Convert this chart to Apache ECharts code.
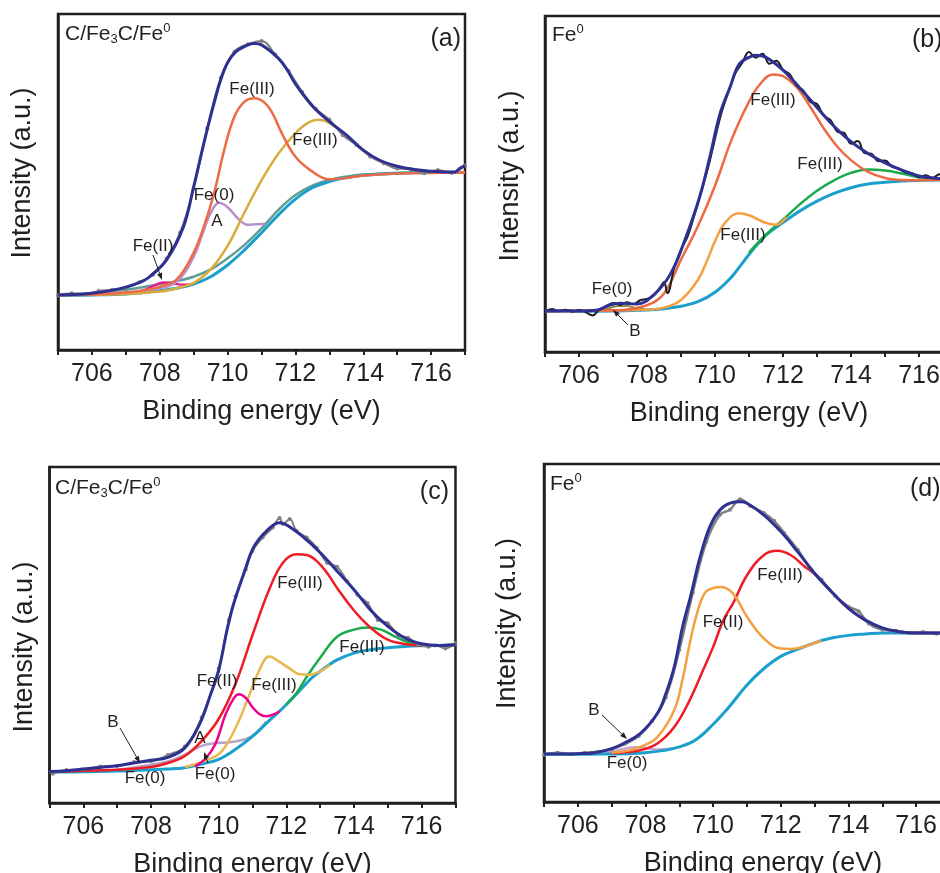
<!DOCTYPE html>
<html>
<head>
<meta charset="utf-8">
<script src="https://cdn.jsdelivr.net/npm/echarts@6/dist/echarts.min.js"></script>
<style>
  html, body { margin: 0; padding: 0; background: #fff; }
  #chart { width: 940px; height: 873px; }
</style>
</head>
<body>
<div id="chart"></div>
<script>
// 横轴刻度标签
const tickLabels = [706, 708, 710, 712, 714, 716];

// ---- (a) C/Fe3C/Fe0 ----
const aEnvelope = [[705,16.4],[705.5,16.5],[706,16.9],[706.5,17.6],[707,18.7],[707.5,20.5],[707.7,21.8],[708.2,26.8],[708.7,36.7],[709,48.6],[709.3,61.5],[709.6,73.4],[709.9,83.3],[710.2,88.3],[710.6,90.8],[710.8,91.2],[711,90.8],[711.5,86.8],[711.75,83.5],[712,79.2],[712.5,72.6],[713,68.0],[713.5,64.0],[714,59.5],[714.5,56.4],[715,54.7],[715.5,53.7],[716,53.2],[716.5,53.0],[716.7,53.0],[716.85,54.1],[717,54.9]];
const aRaw = [[705,16.2],[705.4,16.9],[705.8,16.6],[706.2,17.6],[706.6,17.9],[707,18.5],[707.4,20.2],[707.8,22.4],[708.2,27.2],[708.6,35.0],[709,48.0],[709.4,66.0],[709.8,81.0],[710.2,88.8],[710.6,91.0],[711,92.0],[711.4,88.0],[711.8,83.0],[712.2,76.8],[712.6,71.8],[713,68.6],[713.4,63.9],[713.8,61.0],[714.2,57.6],[714.6,55.6],[715,54.0],[715.4,53.9],[715.8,52.6],[716.2,53.6],[716.6,52.7],[717,54.9]];
const aFe3Low = [[705,16.4],[706,16.5],[707,17.1],[707.5,17.7],[708,18.8],[708.5,21.0],[709,29.0],[709.3,36.7],[709.6,46.6],[709.9,59.5],[710.2,69.4],[710.5,73.9],[710.8,74.9],[711.2,72.4],[711.6,64.5],[712,57.5],[712.5,53.1],[713,50.8],[713.5,51.2],[714,51.9],[715,52.5],[716,52.7],[717,52.8]];
const aFe3High = [[705,16.4],[707,16.7],[708,17.4],[708.5,18.4],[709,20.0],[709.5,24.0],[710,31.0],[710.5,41.0],[711,50.5],[711.5,58.5],[712,64.5],[712.4,67.8],[712.7,68.5],[713,67.6],[713.5,63.8],[714,59.3],[714.5,56.2],[715,54.6],[715.5,53.6],[716,53.1],[717,52.9]];
const aFe0 = [[705,16.4],[707,17.1],[708,18.4],[708.5,20.3],[709,27.8],[709.3,35.7],[709.5,40.7],[709.75,43.8],[710,42.5],[710.3,39.2],[710.6,37.3],[710.8,37.4],[711.1,37.6]];
const aFe2 = [[707,16.7],[707.5,17.7],[707.8,19.0],[708.1,20.1],[708.4,19.8],[708.7,19.4],[708.9,19.5]];
const aTeal = [[705,16.5],[706,16.9],[707,17.9],[707.5,18.7],[708,19.6],[708.5,20.5],[709,21.8],[709.5,24.0],[710,27.3],[710.5,31.3],[711,36.2],[711.5,41.7],[712,46.1],[712.5,48.9],[713,50.6],[713.5,51.6],[714,52.2],[715,52.7],[716,52.9],[717,52.9]];
const aBase = [[705,16.2],[706,16.4],[707,16.7],[707.5,17.1],[708,17.7],[708.5,18.4],[709,19.6],[709.5,21.8],[710,25.3],[710.5,29.8],[711,34.9],[711.5,40.2],[712,44.9],[712.5,48.3],[713,50.1],[713.5,51.3],[714,52.0],[715,52.6],[716,52.8],[717,52.8]];

// ---- (b) Fe0 ----
const bEnvelope = [[705,12.2],[705.5,12.3],[706,12.2],[706.5,12.4],[706.9,14.0],[707.2,14.5],[707.7,14.3],[708.2,17.0],[708.7,23.4],[709.15,34.3],[709.55,46.2],[709.85,58.1],[710.15,71.0],[710.45,79.0],[710.7,85.5],[711,87.7],[711.2,88.3],[711.5,87.7],[712,83.9],[712.5,78.5],[713,72.8],[713.5,67.2],[714,62.6],[714.5,59.1],[715,56.3],[715.5,54.1],[716,52.4],[716.5,51.7],[717,51.5]];
const bRaw = [[705,12.0],[705.2,12.8],[705.4,12.1],[705.6,12.6],[705.8,12.0],[706,12.5],[706.2,11.8],[706.4,10.9],[706.6,12.6],[706.8,13.5],[707,14.6],[707.2,14.0],[707.4,14.8],[707.6,14.2],[707.8,15.4],[708,15.8],[708.2,16.8],[708.4,19.5],[708.5,20.8],[708.6,17.5],[708.8,25.0],[709,30.5],[709.2,34.5],[709.4,41.0],[709.6,48.0],[709.8,55.0],[710,63.5],[710.2,71.5],[710.4,77.5],[710.6,83.0],[710.8,86.0],[711,89.3],[711.2,87.6],[711.4,88.8],[711.6,85.8],[711.8,86.7],[712,84.0],[712.2,82.6],[712.4,79.2],[712.6,77.8],[712.8,74.5],[713,73.8],[713.2,70.3],[713.4,69.0],[713.6,65.6],[713.8,65.2],[714,62.0],[714.2,62.8],[714.4,59.2],[714.6,59.0],[714.8,56.8],[715,57.0],[715.2,55.2],[715.4,54.6],[715.6,53.5],[715.8,53.2],[716,52.0],[716.2,52.6],[716.4,51.8],[716.6,52.9],[716.8,51.8],[717,52.2]];
const bFe3Main = [[705,12.2],[707,12.4],[708,13.9],[708.5,17.4],[709,27.5],[709.5,37.5],[710,49.5],[710.5,63.5],[711,74.5],[711.3,79.4],[711.7,82.6],[712,82.1],[712.4,78.8],[712.8,73.0],[713.2,66.5],[713.6,61.1],[714,57.1],[714.5,53.6],[715,51.8],[715.5,51.2],[716,51.1],[716.5,51.2],[717,51.3]];
const bFe3Low = [[705,12.2],[708,12.6],[708.5,13.2],[709,15.5],[709.5,21.5],[709.8,28.0],[710,33.0],[710.3,38.5],[710.7,41.3],[711,40.7],[711.5,38.4],[711.8,37.9],[712.1,40.2]];
const bFe3Sat = [[711,29.6],[711.5,34.9],[712,39.4],[712.5,44.0],[713,48.0],[713.5,51.1],[714,53.3],[714.5,54.3],[715,54.0],[715.5,53.1],[716,52.0],[716.5,51.4],[717,51.2]];
const bFe0 = [[706.5,12.2],[706.8,12.8],[707.1,13.6],[707.4,13.7],[707.7,13.0],[708,12.6]];
const bBase = [[705,12.1],[706,12.1],[707,12.2],[708,12.5],[708.5,12.9],[709,13.6],[709.5,15.0],[710,17.8],[710.5,22.5],[711,29.0],[711.5,34.8],[712,38.5],[712.5,42.0],[713,44.9],[713.5,47.2],[714,48.9],[714.5,50.0],[715,50.5],[715.5,50.9],[716,51.1],[716.5,51.2],[717,51.2]];

// ---- (c) C/Fe3C/Fe0 ----
const cEnvelope = [[705,9.4],[705.5,9.6],[706,10.1],[706.5,10.6],[707,11.1],[707.5,11.9],[708,12.7],[708.5,13.6],[709,16.4],[709.45,23.8],[709.75,32.0],[710,39.5],[710.25,51.6],[710.45,59.5],[710.75,68.5],[711.05,76.4],[711.45,81.3],[711.8,83.4],[712.2,81.5],[712.7,77.4],[713.2,72.4],[713.6,67.9],[714,63.5],[714.5,57.3],[715,52.6],[715.5,49.1],[716,47.4],[716.5,46.9],[717,47.1]];
const cRaw = [[705.1,8.7],[705.5,9.8],[706,10.0],[706.5,10.9],[707,11.0],[707.5,12.2],[708,12.4],[708.5,14.3],[709,16.8],[709.5,25.5],[710,40.0],[710.3,54.5],[710.5,61.5],[710.8,69.5],[711,75.0],[711.3,79.0],[711.6,82.0],[711.8,84.8],[711.9,83.0],[712.1,84.5],[712.3,81.0],[712.6,79.0],[712.9,76.0],[713.2,71.5],[713.5,70.3],[713.8,66.0],[714.1,62.0],[714.4,59.5],[714.7,54.5],[715,53.5],[715.3,50.0],[715.6,49.2],[715.9,47.2],[716.2,46.5],[716.4,46.9],[716.7,46.0],[717,47.6]];
const cFe3Main = [[705,9.4],[707,9.9],[708,10.7],[708.5,11.9],[709,14.0],[709.5,18.5],[710,25.0],[710.5,35.5],[711,50.0],[711.5,63.7],[711.9,71.5],[712.3,74.0],[712.6,73.8],[712.9,72.0],[713.2,68.5],[713.5,64.0],[714,57.3],[714.5,52.1],[715,48.6],[715.5,47.3],[716,46.9],[717,47.0]];
const cFe3Low = [[709,10.7],[709.5,12.2],[710,14.5],[710.3,18.5],[710.6,24.5],[710.9,32.0],[711.2,39.5],[711.5,43.6],[711.8,42.0],[712.1,40.0],[712.4,38.3],[712.7,38.2],[713,39.2],[713.3,41.1]];
const cFe3Sat = [[712,29.3],[712.3,32.7],[712.6,37.5],[713,43.2],[713.5,49.5],[714,51.6],[714.4,52.2],[714.8,51.6],[715.2,49.6],[715.6,47.9],[716,47.2],[716.5,46.9],[717,47.0]];
const cFe2 = [[709.3,10.9],[709.6,13.1],[709.9,17.5],[710.2,26.3],[710.45,31.2],[710.6,32.4],[710.8,31.3],[711,28.5],[711.2,26.5],[711.4,25.8],[711.6,26.3],[711.8,27.3]];
const cFe0 = [[707,9.9],[707.5,10.6],[708,11.4],[708.5,12.4],[709,14.4],[709.5,17.0],[710,17.9],[710.5,18.3],[711,20.0],[711.4,24.2]];
const cBase = [[705,9.2],[706,9.3],[707,9.5],[708,9.9],[708.5,10.1],[709,10.5],[709.5,11.6],[710,13.0],[710.5,16.0],[711,19.8],[711.5,24.6],[711.8,27.3],[712,29.3],[712.5,34.6],[712.75,37.2],[713,39.2],[713.25,41.0],[713.5,42.6],[714,44.6],[714.5,45.6],[715,46.2],[715.5,46.6],[716,46.8],[716.5,46.9],[717,47.0]];

// ---- (d) Fe0 ----
const dEnvelope = [[705,14.2],[706,14.3],[706.5,14.6],[707,15.8],[707.35,17.3],[707.85,20.3],[708.35,26.2],[708.6,32.0],[708.85,40.0],[709.1,52.0],[709.35,61.5],[709.6,72.0],[709.9,81.4],[710.2,86.4],[710.5,88.4],[710.8,88.8],[711,88.4],[711.5,84.9],[712,80.0],[712.5,74.0],[713,67.6],[713.5,62.2],[714,57.3],[714.5,53.8],[715,51.5],[715.5,50.4],[716,50.0],[716.5,50.0],[717,50.0]];
const dRaw = [[705,14.0],[705.4,14.6],[705.8,14.2],[706.2,14.6],[706.6,14.9],[707,15.6],[707.4,17.2],[707.8,19.5],[708.2,24.0],[708.6,31.0],[709,45.0],[709.4,62.0],[709.8,77.0],[710.2,85.0],[710.5,86.5],[710.8,89.6],[711.1,87.6],[711.5,85.5],[711.8,83.2],[712.1,79.6],[712.5,74.6],[712.9,68.8],[713.2,65.8],[713.6,61.0],[714,57.8],[714.3,56.4],[714.6,52.8],[715,51.0],[715.4,50.7],[715.8,50.0],[716.2,50.3],[716.6,49.8],[717,50.0]];
const dFe2 = [[707,14.6],[707.5,15.2],[707.85,16.3],[708.35,19.2],[708.85,27.2],[709.1,36.5],[709.3,46.5],[709.5,55.0],[709.75,61.8],[710,63.3],[710.25,63.6],[710.6,61.5],[711,54.8],[711.5,48.4],[712,45.4],[712.3,45.3],[712.6,45.7],[712.9,46.7],[713.2,47.7]];
const dFe3 = [[707,14.4],[707.5,14.8],[707.85,15.3],[708.35,17.3],[708.85,22.2],[709.3,30.0],[709.7,39.0],[710,45.9],[710.3,53.8],[710.6,59.0],[711,67.1],[711.5,73.1],[711.9,74.3],[712.3,73.0],[712.7,69.7],[713,67.4],[713.5,62.1],[714,57.2],[714.5,53.7],[715,51.4],[715.5,50.4],[716,50.0],[717,50.0]];
const dFe0 = [[706.5,14.2],[707,14.8],[707.4,15.8],[707.7,16.2],[708,16.0],[708.4,15.5],[708.8,15.8]];
const dBase = [[705,14.1],[706,14.1],[707,14.2],[707.5,14.3],[708,14.6],[708.5,15.2],[709,16.3],[709.5,18.5],[710,23.0],[710.5,28.5],[711,34.6],[711.5,39.5],[712,43.1],[712.5,45.2],[713,47.1],[713.5,48.5],[714,49.3],[714.5,49.7],[715,50.0],[716,50.0],[717,50.0]];

const FONT = 'Liberation Sans, Arial, sans-serif';
const INK = '#231f20';
const NAVY = '#2e3192';
const CYAN = '#1b9fcc';

// 各子图的位置与轴名调整
const panels = [
  { grid: { left: 58, top: 14, width: 407, height: 336 }, yGap: 22, yPad: [0, 0, 0, 18], xPad: [0, 0, 0, 0],
    lines: [
      [aTeal, '#5f9e96', 2.5], [aBase, CYAN, 3], [aFe2, '#ec1c8c', 2.5], [aFe0, '#b98fcc', 2.5],
      [aFe3High, '#d6ad3c', 2.5], [aFe3Low, '#ee6a45', 2.5], [aRaw, '#808080', 2, true], [aEnvelope, NAVY, 3]
    ] },
  { grid: { left: 545, top: 16, width: 408, height: 336 }, yGap: 21, yPad: [0, 0, 0, 16], xPad: [0, 0, 0, 0],
    lines: [
      [bBase, CYAN, 3], [bFe0, '#8c8c3c', 2], [bFe3Sat, '#1aaa4b', 2.5], [bFe3Low, '#f4a040', 2.5],
      [bFe3Main, '#ee6a45', 2.5], [bRaw, '#1e1e1e', 2], [bEnvelope, NAVY, 3]
    ] },
  { grid: { left: 49.5, top: 467, width: 406, height: 336 }, yGap: 11, yPad: [0, 24, 0, 0], xPad: [0, 0, 0, 0],
    lines: [
      [cFe0, '#b8a0c8', 2.5], [cBase, CYAN, 3], [cFe3Sat, '#1aaa4b', 2.5], [cFe3Low, '#e8b84e', 2.5],
      [cFe2, '#ec008c', 2.5], [cFe3Main, '#ee1c24', 2.5], [cRaw, '#808080', 2, true], [cEnvelope, NAVY, 3]
    ] },
  { grid: { left: 544, top: 464, width: 406, height: 338 }, yGap: 23, yPad: [0, 0, 0, 19], xPad: [0, 0, 0, 32],
    lines: [
      [dFe0, '#c9a0d0', 2.5], [dBase, CYAN, 3], [dFe3, '#ee1c24', 2.5], [dFe2, '#f4a040', 2.5],
      [dRaw, '#808080', 2.5, true], [dEnvelope, NAVY, 3]
    ] }
];

const grids = [], xAxes = [], yAxes = [], series = [];
panels.forEach((p, i) => {
  grids.push(Object.assign({ show: true, borderColor: INK, borderWidth: 2.5, containLabel: false, outerBoundsMode: 'none' }, p.grid));
  xAxes.push({
    gridIndex: i, type: 'value', min: 705, max: 717, interval: 1,
    name: 'Binding energy (eV)', nameLocation: 'middle', nameGap: 48,
    nameTextStyle: { fontFamily: FONT, fontSize: 27, color: INK, padding: p.xPad },
    axisLine: { show: true, lineStyle: { color: INK, width: 2.5 } },
    axisTick: { show: true, inside: false, length: 5, lineStyle: { color: INK, width: 2 } },
    axisLabel: {
      margin: 12, fontFamily: FONT, fontSize: 25, color: INK,
      formatter: v => tickLabels.includes(v) ? String(v) : ''
    },
    splitLine: { show: false }
  });
  yAxes.push({
    gridIndex: i, type: 'value', min: 0, max: 100,
    name: 'Intensity (a.u.)', nameLocation: 'middle', nameGap: p.yGap,
    nameTextStyle: { fontFamily: FONT, fontSize: 27, color: INK, padding: p.yPad },
    axisLine: { show: true, lineStyle: { color: INK, width: 2.5 } },
    axisTick: { show: false }, axisLabel: { show: false }, splitLine: { show: false }
  });
  p.lines.forEach(([data, color, width, dots], k) => {
    series.push({
      type: 'line', xAxisIndex: i, yAxisIndex: i, data: data,
      smooth: 0.4, showSymbol: !!dots, symbol: 'circle', symbolSize: 4,
      itemStyle: { color: color }, lineStyle: { color: color, width: width },
      z: 2 + k, silent: true, clip: true
    });
  });
});

// 注释文字
const labels = [
  ['Fe(III)', 252, 89], ['Fe(III)', 315, 140], ['Fe(0)', 214, 195], ['A', 217, 221], ['Fe(II)', 153, 246],
  ['Fe(III)', 773, 100], ['Fe(III)', 820, 164], ['Fe(III)', 743, 235], ['Fe(0)', 612, 289], ['B', 635, 331],
  ['Fe(III)', 300, 583], ['Fe(III)', 362, 647], ['Fe(III)', 274, 685], ['Fe(II)', 217, 681], ['A', 200, 738],
  ['B', 113, 722], ['Fe(0)', 145, 778], ['Fe(0)', 215, 774],
  ['Fe(III)', 780, 575], ['Fe(II)', 723, 622], ['B', 594, 710], ['Fe(0)', 627, 763]
];
const arrows = [
  [153, 255, 162, 280], [628, 325, 613, 310], [120, 728, 140, 763], [208, 763, 204, 752], [602, 715, 627, 739]
];

const graphic = [];
labels.forEach(([t, x, y]) => {
  graphic.push({ type: 'text', x: x, y: y, z: 100,
    style: { text: t, fontFamily: FONT, fontSize: 17, fill: INK, align: 'center', verticalAlign: 'middle' } });
});
arrows.forEach(([x1, y1, x2, y2]) => {
  const dx = x2 - x1, dy = y2 - y1, len = Math.hypot(dx, dy);
  const ux = dx / len, uy = dy / len, hl = 7, hw = 2.6;
  const bx = x2 - ux * hl, by = y2 - uy * hl;
  graphic.push({ type: 'line', z: 100, shape: { x1: x1, y1: y1, x2: bx, y2: by }, style: { stroke: INK, lineWidth: 1 } });
  graphic.push({ type: 'polygon', z: 100,
    shape: { points: [[x2, y2], [bx - uy * hw, by + ux * hw], [bx + uy * hw, by - ux * hw]] }, style: { fill: INK } });
});

const richTitle = {
  n: { fontFamily: FONT, fontSize: 21, fill: INK, color: INK },
  s: { fontFamily: FONT, fontSize: 13, fill: INK, color: INK, padding: [11, 0, 0, 0] },
  p: { fontFamily: FONT, fontSize: 13, fill: INK, color: INK, padding: [0, 0, 11, 0] }
};
[[65, 34, '{n|C/Fe}{s|3}{n|C/Fe}{p|0}'], [552, 35, '{n|Fe}{p|0}'],
 [55, 488, '{n|C/Fe}{s|3}{n|C/Fe}{p|0}'], [550, 484, '{n|Fe}{p|0}']].forEach(([x, y, t]) => {
  graphic.push({ type: 'text', x: x, y: y, z: 100,
    style: { text: t, rich: richTitle, align: 'left', verticalAlign: 'middle', fontFamily: FONT, fontSize: 21, fill: INK } });
});
[['(a)', 461, 39, 'right'], ['(b)', 912, 40, 'left'], ['(c)', 449, 492, 'right'], ['(d)', 910, 489, 'left']]
  .forEach(([t, x, y, al]) => {
    graphic.push({ type: 'text', x: x, y: y, z: 100,
      style: { text: t, fontFamily: FONT, fontSize: 25, fill: INK, align: al, verticalAlign: 'middle' } });
  });

const chart = echarts.init(document.getElementById('chart'), null, { renderer: 'canvas' });
chart.setOption({
  animation: false,
  backgroundColor: '#ffffff',
  grid: grids, xAxis: xAxes, yAxis: yAxes, series: series, graphic: graphic
});
</script>
</body>
</html>
